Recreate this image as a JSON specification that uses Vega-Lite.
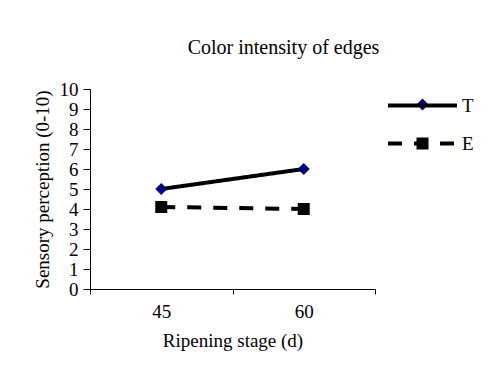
{
  "$schema": "https://vega.github.io/schema/vega-lite/v6.json",
  "width": 285,
  "height": 200,
  "autosize": "none",
  "padding": {"left": 90, "top": 89, "right": 117, "bottom": 82},
  "background": "white",
  "config": {
    "font": "Liberation Serif",
    "view": {"stroke": null},
    "axis": {"labelFont": "Liberation Serif", "titleFont": "Liberation Serif", "labelColor": "black", "titleColor": "black", "domainColor": "black", "tickColor": "black", "titleFontWeight": "normal", "grid": false},
    "legend": {"labelFont": "Liberation Serif", "labelColor": "black"}
  },
  "title": {"text": "Color intensity of edges", "font": "Liberation Serif", "fontSize": 20, "fontWeight": "normal", "color": "black", "anchor": "middle", "dx": 51, "offset": 22},
  "data": {"values": [
    {"stage": "45", "series": "T", "value": 5.0},
    {"stage": "60", "series": "T", "value": 6.0},
    {"stage": "45", "series": "E", "value": 4.1},
    {"stage": "60", "series": "E", "value": 4.0}
  ]},
  "encoding": {
    "x": {"field": "stage", "type": "nominal", "sort": ["45", "60"],
      "scale": {"paddingInner": 0, "paddingOuter": 0},
      "axis": {"title": "Ripening stage (d)", "labelAngle": 0, "tickBand": "extent", "labelFontSize": 19, "titleFontSize": 19, "tickSize": 5, "labelPadding": 8, "titlePadding": 10}},
    "y": {"field": "value", "type": "quantitative",
      "scale": {"domain": [0, 10], "nice": false, "zero": true},
      "axis": {"title": "Sensory perception (0-10)", "values": [0,1,2,3,4,5,6,7,8,9,10], "labelFontSize": 19, "titleFontSize": 19, "tickSize": 7, "labelPadding": 5, "titlePadding": 7}}
  },
  "resolve": {"legend": {"strokeDash": "independent"}},
  "layer": [
    {
      "mark": {"type": "line", "color": "black", "strokeWidth": 4},
      "encoding": {
        "strokeDash": {"field": "series", "type": "nominal",
          "scale": {"domain": ["T", "E"], "range": [[1, 0], [14, 12]]},
          "legend": {"title": null, "orient": "none", "legendX": 313, "legendY": -3, "symbolType": "M-2,0H2", "symbolSize": 1190, "symbolStrokeWidth": 4, "symbolStrokeColor": "black", "labelFontSize": 19, "labelOffset": 20, "rowPadding": 8}}
      }
    },
    {
      "mark": {"type": "point", "filled": true, "size": 144, "opacity": 1},
      "encoding": {
        "shape": {"field": "series", "type": "nominal",
          "scale": {"domain": ["T", "E"], "range": ["diamond", "square"]},
          "legend": {"title": null, "orient": "none", "legendX": 323, "legendY": 6, "symbolSize": 144, "symbolOpacity": 1, "labelOpacity": 0, "labelFontSize": 19, "rowPadding": 19}},
        "color": {"field": "series", "type": "nominal",
          "scale": {"domain": ["T", "E"], "range": ["#000080", "black"]},
          "legend": {"title": null, "orient": "none", "legendX": 323, "legendY": 6, "symbolSize": 144, "symbolOpacity": 1, "labelOpacity": 0, "labelFontSize": 19, "rowPadding": 19}}
      }
    }
  ]
}
